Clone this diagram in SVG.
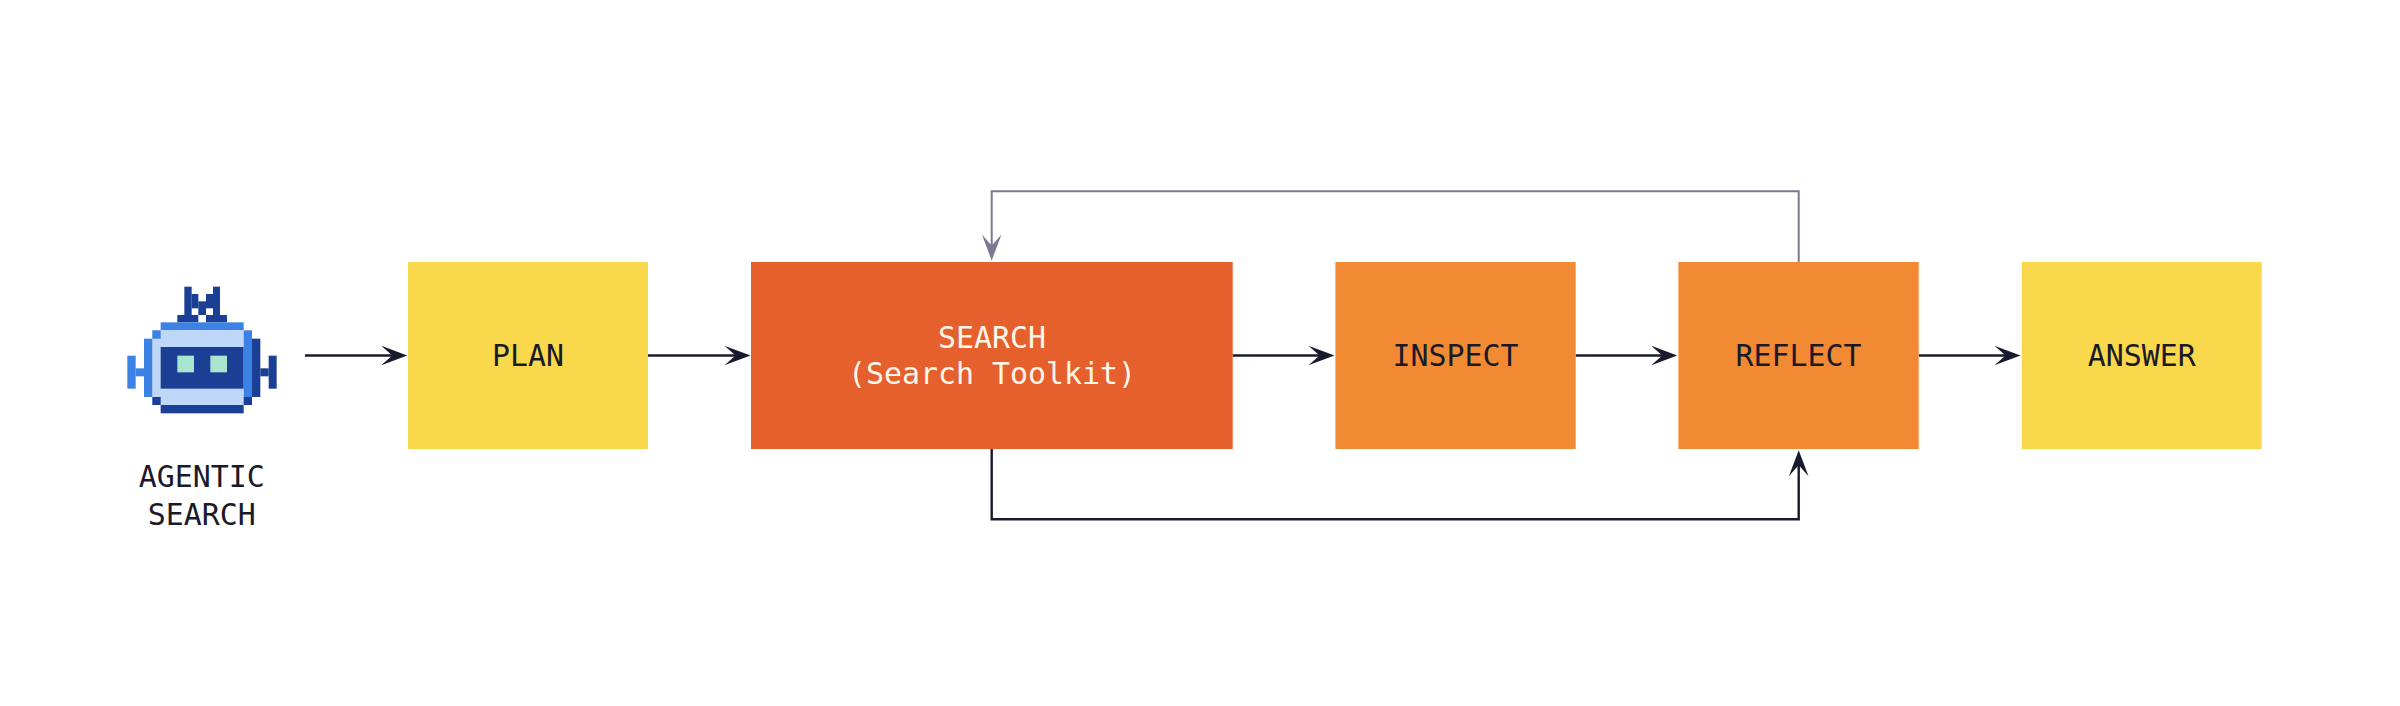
<svg xmlns="http://www.w3.org/2000/svg" width="2400" height="706" viewBox="0 0 2400 706">
<style>
text{font-family:"DejaVu Sans Mono","Liberation Mono",monospace;font-size:29.9px;text-anchor:middle;fill:#1a1a2a}
.yellow{fill:#F9D94B}.red{fill:#E5602C}.orange{fill:#F28A33}
.d{fill:#1B3F94}.m{fill:#3B82E4}.l{fill:#BFD7F8}.e{fill:#A8E6CF}
.c{fill:none;stroke:#1a1a2e;stroke-width:2.4}
.g{fill:none;stroke:#7A7A92;stroke-width:2}
</style>
<defs>
<marker id="ah" markerUnits="userSpaceOnUse" markerWidth="30" markerHeight="24" viewBox="0 -12 30 24" refX="15" refY="0" orient="auto"><path d="M25.500 0L-.5 -9.800L9.500 -1L9.500 1L-.5 9.800Z" fill="#1a1a2e"/></marker>
<marker id="ag" markerUnits="userSpaceOnUse" markerWidth="30" markerHeight="24" viewBox="0 -12 30 24" refX="15" refY="0" orient="auto"><path d="M25.500 0L-.5 -9.800L9.500 -1L9.500 1L-.5 9.800Z" fill="#7A7A92"/></marker>
</defs>
<rect width="2400" height="706" fill="#fff"/>
<g id="connectors">
<path class="c" marker-end="url(#ah)" d="M305 355.500H396.700"/>
<path class="c" marker-end="url(#ah)" d="M648 355.500H740"/>
<path class="c" marker-end="url(#ah)" d="M1232.700 355.500H1324"/>
<path class="c" marker-end="url(#ah)" d="M1575.700 355.500H1666.700"/>
<path class="c" marker-end="url(#ah)" d="M1918.700 355.500H2010"/>
<path class="c" marker-end="url(#ah)" d="M991.700 448.700V519.300H1798.700V460.700"/>
<path class="g" marker-end="url(#ag)" d="M1798.700 262V191.300H991.700V250"/>
</g>
<g id="agent">
<g id="robot" transform="translate(110 270) scale(.33333)">
<rect class="d" x="223" y="50" width="22" height="85"/>
<rect class="d" x="309" y="50" width="21" height="85"/>
<rect class="d" x="245" y="72" width="20" height="43"/>
<rect class="d" x="288" y="72" width="21" height="43"/>
<rect class="d" x="265" y="94" width="23" height="41"/>
<rect class="d" x="202" y="135" width="63" height="22"/>
<rect class="d" x="288" y="135" width="63" height="22"/>
<rect class="m" x="152" y="157" width="249" height="24"/>
<rect class="l" x="127" y="181" width="274" height="224"/>
<rect class="m" x="127" y="181" width="25" height="25"/>
<rect class="d" x="127" y="381" width="25" height="24"/>
<rect class="m" x="102" y="206" width="25" height="175"/>
<rect class="m" x="52" y="257" width="25" height="99"/>
<rect class="m" x="77" y="295" width="25" height="24"/>
<rect class="d" x="152" y="231" width="249" height="125"/>
<rect class="e" x="202" y="257" width="50" height="50"/>
<rect class="e" x="301" y="257" width="50" height="50"/>
<rect class="m" x="401" y="181" width="25" height="200"/>
<rect class="d" x="401" y="381" width="25" height="24"/>
<rect class="d" x="426" y="206" width="25" height="175"/>
<rect class="d" x="451" y="295" width="25" height="24"/>
<rect class="d" x="476" y="257" width="24" height="99"/>
<rect class="d" x="152" y="405" width="249" height="25"/>
</g>
<text x="201.700" y="487.300">AGENTIC</text>
<text x="201.700" y="524.700">SEARCH</text>
</g>
<g id="plan"><rect class="yellow" x="408" y="262" width="240" height="187"/><text x="528" y="366">PLAN</text></g>
<g id="search"><rect class="red" x="751" y="262" width="481.700" height="187"/><text x="992" y="347.700" style="fill:#FFF6EA">SEARCH</text><text x="992" y="384.300" style="fill:#FFF6EA">(Search Toolkit)</text></g>
<g id="inspect"><rect class="orange" x="1335.400" y="262" width="240.300" height="187"/><text x="1455.500" y="366">INSPECT</text></g>
<g id="reflect"><rect class="orange" x="1678.400" y="262" width="240.300" height="187"/><text x="1798.500" y="366">REFLECT</text></g>
<g id="answer"><rect class="yellow" x="2021.700" y="262" width="240" height="187"/><text x="2141.700" y="366">ANSWER</text></g>
</svg>
